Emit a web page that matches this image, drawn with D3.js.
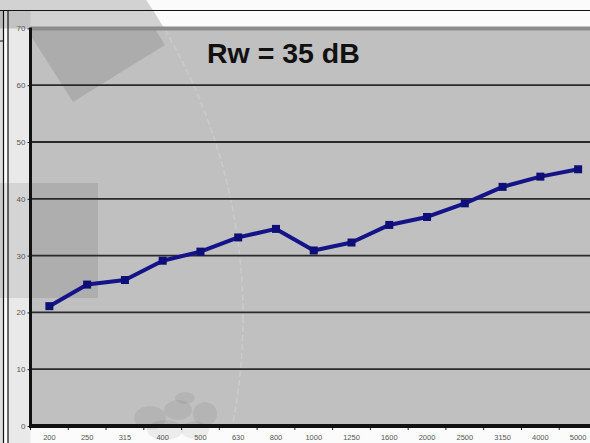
<!DOCTYPE html>
<html><head><meta charset="utf-8">
<script src="https://cdn.jsdelivr.net/npm/d3@7"></script>
<style>html,body{margin:0;padding:0;background:#fff;overflow:hidden}svg{display:block}</style>
</head><body>
<script>
const categories = ["200","250","315","400","500","630","800","1000","1250","1600","2000","2500","3150","4000","5000"];
const values = [21.1,24.9,25.7,29.1,30.7,33.2,34.7,30.9,32.3,35.4,36.8,39.2,42.1,43.9,45.2];
const yTicks = [0,10,20,30,40,50,60,70];
const titleText = "Rw = 35 dB";

const W = 590, H = 443;
const svg = d3.select("body").append("svg").attr("width", W).attr("height", H);

const x = d3.scalePoint().domain(categories).range([30.5, 597]).padding(0.5);
const xb = d3.scaleBand().domain(categories).range([30.5, 597]);
const y = d3.scaleLinear().domain([0, 70]).range([426, 28.4]);

const defs = svg.append("defs");
defs.append("clipPath").attr("id","plotClip").append("rect")
  .attr("x", 30.5).attr("y", y(70)).attr("width", W).attr("height", y(0) - y(70));
defs.append("clipPath").attr("id","topClip").append("rect")
  .attr("x", 0).attr("y", 0).attr("width", W).attr("height", y(70));

// background
svg.append("rect").attr("width", W).attr("height", H).attr("fill", "#fbfbfb");
// left margin of the chart panel
svg.append("rect").attr("x", 8).attr("y", 10).attr("width", 22.5).attr("height", H).attr("fill", "#e9e9e9");
svg.append("rect").attr("x", 0).attr("y", 10).attr("width", 3).attr("height", H).attr("fill", "#dedede");

// watermark circle on the top strip
svg.append("circle").attr("cx", -325).attr("cy", 317).attr("r", 568)
  .attr("fill", "rgba(0,0,0,0.16)").attr("clip-path", "url(#topClip)");

// plot area
svg.append("rect").attr("x", 30.5).attr("y", y(70)).attr("width", W).attr("height", y(0) - y(70))
  .attr("fill", "#c0c0c0");

// watermark shapes in plot
const wm = svg.append("g").attr("clip-path", "url(#plotClip)");
wm.append("path").attr("d", "M22,22 L115,-35 L165,45 L73,102 Z").attr("fill", "rgba(0,0,0,0.1)");
wm.append("circle").attr("cx", -325).attr("cy", 317).attr("r", 568)
  .attr("fill", "none").attr("stroke", "rgba(255,255,255,0.18)").attr("stroke-width", 1.5)
  .attr("stroke-dasharray", "6,3");
// honeycomb
const hc = [[150,418,16,12],[178,410,14,10],[205,414,12,12],[165,430,18,10],[195,430,14,9],[185,398,10,6]];
svg.append("g").selectAll("ellipse").data(hc).join("ellipse")
  .attr("cx", d=>d[0]).attr("cy", d=>d[1]).attr("rx", d=>d[2]).attr("ry", d=>d[3])
  .attr("fill", "rgba(0,0,0,0.06)");
// darker rectangle
svg.append("rect").attr("x", 0).attr("y", 183).attr("width", 98).attr("height", 115)
  .attr("fill", "rgba(0,0,0,0.09)");

// gridlines
svg.append("g").selectAll("line").data(yTicks.filter(t => t > 0 && t < 70)).join("line")
  .attr("x1", 30.5).attr("x2", W).attr("y1", d => y(d)).attr("y2", d => y(d))
  .attr("stroke", "#2a2a2a").attr("stroke-width", 1.8);
// top border of plot
svg.append("line").attr("x1", 30.5).attr("x2", W).attr("y1", y(70)).attr("y2", y(70))
  .attr("stroke", "#8c8c8c").attr("stroke-width", 4);

// frame lines
svg.append("line").attr("x1", 0).attr("x2", W).attr("y1", 10.5).attr("y2", 10.5).attr("stroke", "#111").attr("stroke-width", 1);
svg.append("line").attr("x1", 8).attr("x2", 8).attr("y1", 10).attr("y2", H).attr("stroke", "#111").attr("stroke-width", 1.2);
svg.append("line").attr("x1", 3.5).attr("x2", 3.5).attr("y1", 10).attr("y2", H).attr("stroke", "#111").attr("stroke-width", 1.2);
svg.append("line").attr("x1", 0).attr("x2", 3.5).attr("y1", 41).attr("y2", 41).attr("stroke", "#111").attr("stroke-width", 1);

// y axis
const yAxis = d3.axisLeft(y).tickValues(yTicks).tickSize(3).tickPadding(2);
const gy = svg.append("g").attr("transform", "translate(30.5,0)").call(yAxis);
gy.select(".domain").remove();
gy.selectAll(".tick line").attr("stroke", "#222");
gy.selectAll("text").attr("font-family", "Liberation Sans, Arial, sans-serif").attr("font-size", 8).attr("fill", "#555");

// x axis labels
const gx = svg.append("g").attr("transform", `translate(0,${y(0)})`);
gx.selectAll("text").data(categories).join("text")
  .attr("x", d => x(d)).attr("y", 14)
  .attr("text-anchor", "middle")
  .attr("font-family", "Liberation Sans, Arial, sans-serif").attr("font-size", 7.5)
  .attr("fill", "#555").text(d => d);
gx.selectAll("line.tk").data(categories).join("line").attr("class","tk")
  .attr("x1", d => xb(d)).attr("x2", d => xb(d)).attr("y1", 0).attr("y2", 4)
  .attr("stroke", "#222").attr("stroke-width", 1);

// axis lines
svg.append("line").attr("x1", 30.5).attr("x2", W).attr("y1", y(0)).attr("y2", y(0))
  .attr("stroke", "#111").attr("stroke-width", 4);
svg.append("line").attr("x1", 30.5).attr("x2", 30.5).attr("y1", y(70) - 1).attr("y2", y(0) + 2)
  .attr("stroke", "#111").attr("stroke-width", 3);

// series
const line = d3.line().x((d, i) => x(categories[i])).y(d => y(d));
svg.append("path").datum(values).attr("d", line)
  .attr("fill", "none").attr("stroke", "#141488").attr("stroke-width", 4)
  .attr("stroke-linejoin", "round");
svg.append("g").selectAll("rect").data(values).join("rect")
  .attr("x", (d, i) => x(categories[i]) - 4).attr("y", d => y(d) - 4)
  .attr("width", 8).attr("height", 8).attr("fill", "#0e0e78");

// title
svg.append("text").attr("x", 207).attr("y", 63)
  .attr("font-family", "Liberation Sans, Arial, sans-serif").attr("font-weight", "bold")
  .attr("font-size", 28.5).attr("fill", "#111").text(titleText);
</script>
</body></html>
